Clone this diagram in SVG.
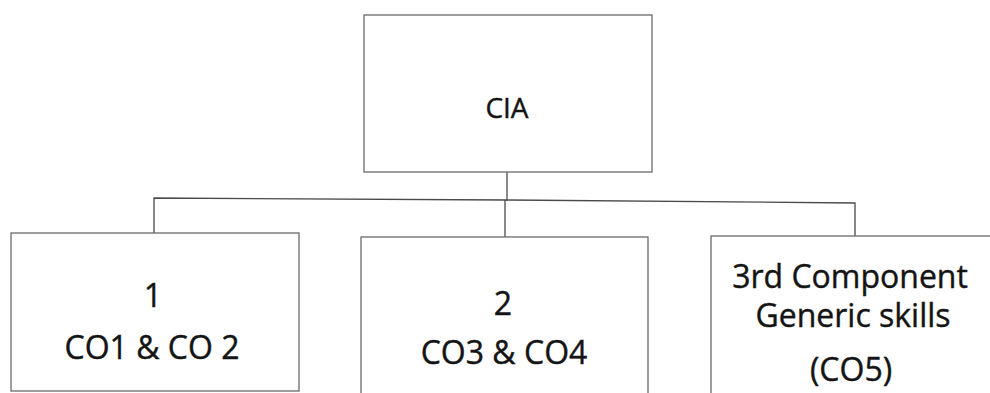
<svg xmlns="http://www.w3.org/2000/svg" width="990" height="393" viewBox="0 0 990 393">
  <style>
    .box { fill: #ffffff; stroke: #6a6a6a; stroke-width: 1.3; }
    .conn { fill: none; stroke: #4a4a4a; stroke-width: 1.3; }
    .lbl { font-family: "Open Sans", "Liberation Sans", sans-serif; fill: #141414; stroke: #141414; stroke-width: 0.4; text-anchor: middle; }
    .big { font-size: 32px; }
    .top { font-size: 28px; }
  </style>
  <rect width="990" height="393" fill="#ffffff"/>
  <g id="connectors">
    <line class="conn" x1="507" y1="172" x2="507" y2="201"/>
    <polyline class="conn" points="154,233 154,198 507,200 855,203 855,236"/>
    <line class="conn" x1="505" y1="200" x2="505" y2="237"/>
  </g>
  <g id="node-cia">
    <rect class="box" x="364" y="15" width="288" height="157"/>
    <text class="lbl top" x="507" y="118">CIA</text>
  </g>
  <g id="node-1">
    <rect class="box" x="11" y="233" width="288" height="158"/>
    <text class="lbl big" x="153" y="307">1</text>
    <text class="lbl big" x="152" y="359">CO1 &amp; CO 2</text>
  </g>
  <g id="node-2">
    <rect class="box" x="361" y="237" width="287" height="160"/>
    <text class="lbl big" x="503" y="315">2</text>
    <text class="lbl big" x="504" y="364">CO3 &amp; CO4</text>
  </g>
  <g id="node-3">
    <rect class="box" x="711" y="236" width="290" height="160"/>
    <text class="lbl big" x="850" y="288">3rd Component</text>
    <text class="lbl big" x="853" y="327">Generic skills</text>
    <text class="lbl big" x="851" y="381">(CO5)</text>
  </g>
</svg>
